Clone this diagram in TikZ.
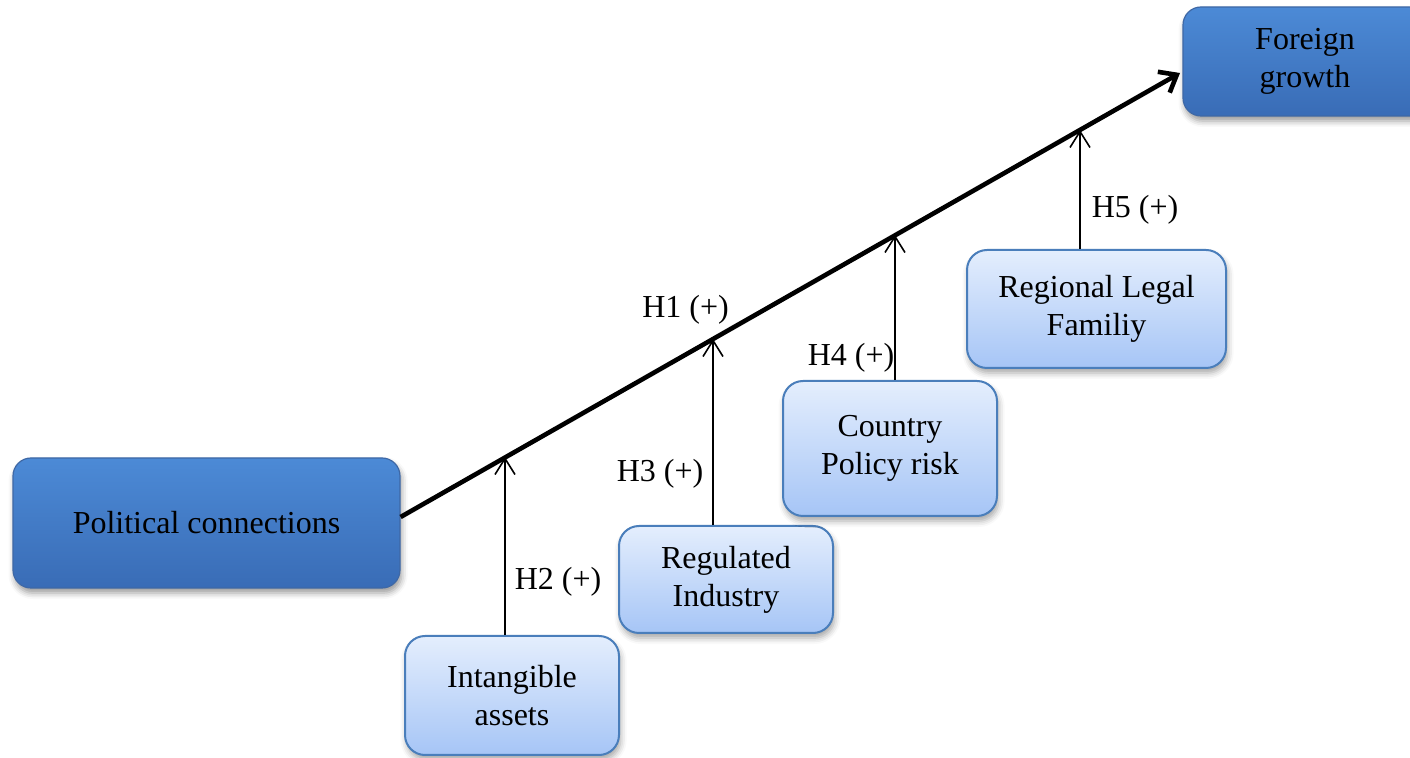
\documentclass[tikz,border=0pt]{standalone}
\usepackage{fontspec}
\setmainfont{Liberation Serif}
\usetikzlibrary{arrows.meta,shadows.blur,calc}
\definecolor{darktop}{RGB}{76,138,214}
\definecolor{darkbot}{RGB}{57,108,182}
\definecolor{darkline}{RGB}{62,104,166}
\definecolor{lighttop}{RGB}{228,238,253}
\definecolor{lightbot}{RGB}{166,197,246}
\definecolor{lightline}{RGB}{74,126,187}
\begin{document}
\begin{tikzpicture}[x=0.5pt,y=-0.5pt,
  txt/.style={font=\fontsize{16}{19}\selectfont, align=center, inner sep=0pt},
  mainbox/.style={txt, rounded corners=9pt, top color=darktop, bottom color=darkbot,
    draw=darkline, line width=0.6pt,
    blur shadow={shadow xshift=0.8pt, shadow yshift=-2.5pt, shadow blur radius=3pt, shadow opacity=40}},
  modbox/.style={txt, rounded corners=10pt, top color=lighttop, bottom color=lightbot,
    draw=lightline, line width=1pt, minimum width=107pt,
    blur shadow={shadow xshift=0.8pt, shadow yshift=-2.5pt, shadow blur radius=3pt, shadow opacity=35}},
  mainarrow/.style={line width=2.3pt, -{Straight Barb[length=7.5pt,width=12pt]}},
  modarrow/.style={line width=0.8pt, -{Straight Barb[length=8pt,width=10pt]}},
  hyp/.style={font=\fontsize{16}{18.5}\selectfont, inner sep=0pt, anchor=base}
]
\path[use as bounding box, clip] (0,0) rectangle (1410,758);

\node[mainbox, minimum width=193.5pt, minimum height=65pt] (pc) at (206.5,523) {Political connections};
\node[mainbox, minimum width=122pt, minimum height=54.5pt] (fg) at (1305,61.5) {Foreign\\growth};

\node[modbox, minimum height=59.5pt] (ia) at (512,695.5) {Intangible\\assets};
\node[modbox, minimum height=53.5pt] (ri) at (726,579.5) {Regulated\\Industry};
\node[modbox, minimum height=67.5pt] (cp) at (890,448.5) {Country\\Policy risk};
\node[modbox, minimum width=129.5pt, minimum height=59pt] (rl) at (1096.5,309) {Regional Legal\\Familiy};

\coordinate (fgin) at (1180,73);
\draw[mainarrow] ([yshift=3pt]pc.east) -- (fgin);

\coordinate (p2) at (505,457);
\coordinate (p3) at (713,339);
\coordinate (p4) at (895,235);
\coordinate (p5) at (1080,130);

\draw[modarrow] (p2 |- ia.north) -- (p2);
\draw[modarrow] (p3 |- ri.north) -- (p3);
\draw[modarrow] (p4 |- cp.north) -- (p4);
\draw[modarrow] (p5 |- rl.north) -- (p5);

\node[hyp] (h1) at (685.5,318) {H1 (+)};
\node[hyp] (h2) at (558,590) {H2 (+)};
\node[hyp] (h3) at (660,481.5) {H3 (+)};
\node[hyp] (h4) at (851,365.5) {H4 (+)};
\node[hyp] (h5) at (1135,218) {H5 (+)};
\end{tikzpicture}
\end{document}
